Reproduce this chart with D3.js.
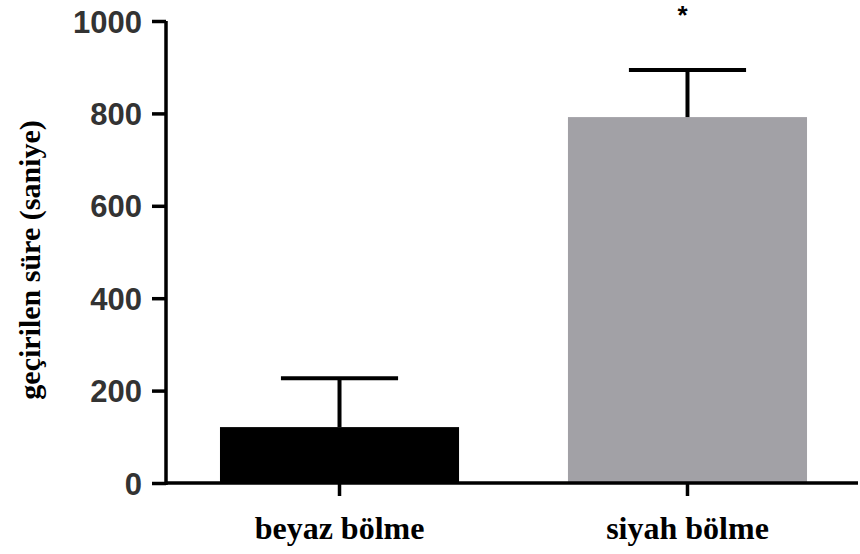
<!DOCTYPE html>
<html><head><meta charset="utf-8">
<script src="https://cdn.jsdelivr.net/npm/d3@7"></script>
<style>body{margin:0;background:#fff}</style>
</head><body>
<svg id="c" width="860" height="554"></svg>
<script>
const categories = ["beyaz bölme", "siyah bölme"];
const means = [121, 792];
const errors = [106, 102];
const barColors = ["#000000", "#a2a1a6"];
const yTicks = [0, 200, 400, 600, 800, 1000];
const significance = ["", "*"];

const svg = d3.select("#c");
const x0 = 166, x1 = 858, yTop = 21, yBot = 483;
const x = d3.scaleBand().domain(categories).range([169, x1]).paddingInner(0.313).paddingOuter(0.1465);
const y = d3.scaleLinear().domain([0, 1000]).range([yBot, yTop]);

// bars
svg.selectAll("rect.bar").data(categories).enter().append("rect")
  .attr("x", d => x(d)).attr("width", x.bandwidth())
  .attr("y", (d,i) => y(means[i])).attr("height", (d,i) => y(0) - y(means[i]))
  .attr("fill", (d,i) => barColors[i]);

// error bars
const capW = x.bandwidth() * 0.49;
categories.forEach((d,i) => {
  const cx = x(d) + x.bandwidth()/2;
  svg.append("line").attr("x1", cx).attr("x2", cx)
    .attr("y1", y(means[i] + errors[i])).attr("y2", y(means[i]))
    .attr("stroke", "#000").attr("stroke-width", 4);
  svg.append("line").attr("x1", cx - capW/2).attr("x2", cx + capW/2)
    .attr("y1", y(means[i] + errors[i])).attr("y2", y(means[i] + errors[i]))
    .attr("stroke", "#000").attr("stroke-width", 4);
  if (significance[i]) {
    svg.append("text").attr("x", cx - 5).attr("y", 24)
      .attr("text-anchor", "middle").attr("font-family", "Liberation Sans, Arial")
      .attr("font-weight", "bold").attr("font-size", 26).text(significance[i]);
  }
});

// y axis
const yAxis = svg.append("g").attr("transform", `translate(${x0},0)`)
  .call(d3.axisLeft(y).tickValues(yTicks).tickSize(14).tickPadding(10).tickFormat(d3.format("d")));
yAxis.select(".domain").attr("stroke", "#000").attr("stroke-width", 3.5).attr("d", `M0,${yTop}V${yBot+2}`);
yAxis.selectAll(".tick line").attr("stroke", "#000").attr("stroke-width", 3.5);
yAxis.selectAll(".tick text").attr("font-family", "Liberation Sans, Arial").attr("font-weight", "bold")
  .attr("font-size", 31).attr("fill", "#333").attr("dy", "0.36em");

// x axis
const xAxis = svg.append("g").attr("transform", `translate(0,${yBot})`)
  .call(d3.axisBottom(x).tickSize(13).tickPadding(20));
xAxis.select(".domain").attr("stroke", "#000").attr("stroke-width", 3.5).attr("d", `M${x0},0H${x1}`);
xAxis.selectAll(".tick line").attr("stroke", "#000").attr("stroke-width", 3.5);
xAxis.selectAll(".tick text").attr("font-family", "Liberation Serif, Times New Roman").attr("font-weight", "bold")
  .attr("font-size", 32).attr("fill", "#000");

// y title
svg.append("text").attr("transform", `translate(40,260) rotate(-90)`)
  .attr("text-anchor", "middle").attr("font-family", "Liberation Serif, Times New Roman")
  .attr("font-weight", "bold").attr("font-size", 30).text("geçirilen süre (saniye)");
</script>
</body></html>
